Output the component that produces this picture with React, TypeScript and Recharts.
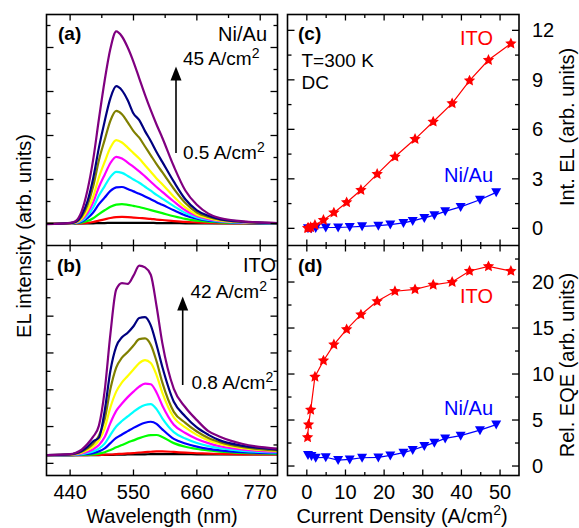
import React from 'react'
import { LineChart, Line, XAxis, YAxis } from 'recharts'

const W = 579
const H = 528
const FONT = "'Liberation Sans', Arial, Helvetica, sans-serif"

// panel frames (px)
const LX0 = 46.5
const LX1 = 277.5
const RX0 = 287.5
const RX1 = 519
const TOP = 14.5
const MID = 245.5
const BOT = 475.5

// ---- spectra (a) Ni/Au and (b) ITO ----
const WL = [400, 440, 450, 460, 470, 480, 490, 500, 510, 520, 530, 540, 550, 560, 570, 580, 590, 600, 620, 640, 660, 680, 700, 740, 800]
const WL_TICKS = [440, 495, 550, 605, 660, 715, 770]
const WL_LABELS = [440, 550, 660, 770]

const niBlack = [0, 0, 0, 0, 0.01, 0.01, 0.02, 0.02, 0.03, 0.03, 0.03, 0.03, 0.03, 0.03, 0.03, 0.03, 0.02, 0.02, 0.02, 0.01, 0.01, 0.01, 0.01, 0, 0]
const niRed = [0, 0, 0, 0.01, 0.03, 0.07, 0.13, 0.19, 0.25, 0.29, 0.3, 0.29, 0.27, 0.25, 0.23, 0.21, 0.18, 0.16, 0.11, 0.07, 0.05, 0.03, 0.02, 0.01, 0]
const niGreen = [0, 0, 0.01, 0.04, 0.11, 0.24, 0.43, 0.6, 0.76, 0.86, 0.88, 0.85, 0.8, 0.75, 0.68, 0.61, 0.54, 0.47, 0.33, 0.21, 0.13, 0.08, 0.05, 0.02, 0.01]
const niBlue = [0, 0, 0.02, 0.08, 0.24, 0.5, 0.88, 1.18, 1.48, 1.64, 1.66, 1.57, 1.46, 1.35, 1.23, 1.1, 0.97, 0.85, 0.6, 0.37, 0.22, 0.13, 0.08, 0.03, 0.01]
const niCyan = [0, 0.01, 0.03, 0.12, 0.35, 0.73, 1.27, 1.7, 2.12, 2.35, 2.3, 2.16, 2.0, 1.85, 1.67, 1.49, 1.3, 1.13, 0.79, 0.48, 0.28, 0.16, 0.1, 0.04, 0.01]
const niMagenta = [-0.01, 0.01, 0.04, 0.17, 0.47, 0.96, 1.66, 2.22, 2.75, 3.03, 2.95, 2.77, 2.57, 2.37, 2.14, 1.9, 1.66, 1.44, 1.0, 0.6, 0.34, 0.2, 0.12, 0.05, 0.02]
const niYellow = [-0.01, 0.01, 0.05, 0.22, 0.6, 1.22, 2.1, 2.8, 3.45, 3.79, 3.68, 3.45, 3.2, 2.95, 2.65, 2.35, 2.05, 1.78, 1.22, 0.73, 0.4, 0.24, 0.14, 0.06, 0.02]
const niOlive = [-0.02, 0.02, 0.07, 0.3, 0.82, 1.68, 2.88, 3.8, 4.68, 5.12, 4.97, 4.6, 4.2, 3.9, 3.5, 3.1, 2.7, 2.33, 1.58, 0.93, 0.5, 0.3, 0.17, 0.07, 0.02]
const niNavy = [-0.02, 0.02, 0.08, 0.38, 1.0, 2.05, 3.45, 4.65, 5.7, 6.24, 6.05, 5.6, 5.0, 4.7, 4.2, 3.75, 3.25, 2.8, 1.9, 1.1, 0.6, 0.35, 0.2, 0.08, 0.02]
const niPurple = [-0.03, 0.03, 0.12, 0.55, 1.5, 2.9, 4.75, 6.5, 7.95, 8.73, 8.5, 8.0, 7.35, 6.6, 5.85, 5.15, 4.5, 3.9, 2.6, 1.5, 0.85, 0.45, 0.25, 0.1, 0.02]

const itoBlack = [0, 0, 0, 0, 0, 0, 0, 0.01, 0.01, 0.02, 0.02, 0.03, 0.03, 0.04, 0.04, 0.05, 0.05, 0.05, 0.05, 0.05, 0.04, 0.04, 0.04, 0.03, 0.03]
const itoRed = [0, 0, 0, 0, 0, 0.01, 0.01, 0.02, 0.03, 0.05, 0.07, 0.09, 0.11, 0.14, 0.16, 0.18, 0.2, 0.2, 0.17, 0.13, 0.1, 0.08, 0.06, 0.04, 0.03]
const itoGreen = [0, 0, 0, 0.01, 0.02, 0.04, 0.08, 0.15, 0.28, 0.42, 0.55, 0.68, 0.8, 0.92, 1.02, 1.08, 1.09, 0.98, 0.65, 0.45, 0.33, 0.25, 0.19, 0.12, 0.07]
const itoBlue = [0, 0, 0.01, 0.03, 0.06, 0.11, 0.2, 0.36, 0.65, 0.93, 1.12, 1.3, 1.48, 1.64, 1.76, 1.81, 1.7, 1.4, 0.88, 0.63, 0.46, 0.34, 0.26, 0.16, 0.1]
const itoCyan = [0, 0.01, 0.02, 0.05, 0.11, 0.2, 0.35, 0.62, 1.1, 1.55, 1.85, 2.1, 2.35, 2.57, 2.72, 2.77, 2.5, 2.0, 1.25, 0.9, 0.66, 0.49, 0.37, 0.23, 0.14]
const itoMagenta = [0, 0.01, 0.04, 0.09, 0.18, 0.32, 0.55, 0.98, 1.75, 2.4, 2.8, 3.15, 3.45, 3.72, 3.88, 3.85, 3.4, 2.7, 1.65, 1.2, 0.88, 0.65, 0.48, 0.3, 0.18]
const itoYellow = [0, 0.02, 0.06, 0.13, 0.27, 0.46, 0.8, 1.45, 2.6, 3.45, 3.95, 4.3, 4.65, 5.0, 5.16, 5.0, 4.35, 3.4, 2.05, 1.5, 1.1, 0.8, 0.6, 0.37, 0.22]
const itoOlive = [0, 0.03, 0.08, 0.18, 0.36, 0.62, 1.05, 1.95, 3.6, 4.75, 5.3, 5.6, 5.95, 6.3, 6.34, 6.0, 5.1, 3.95, 2.35, 1.75, 1.28, 0.93, 0.7, 0.43, 0.25]
const itoNavy = [0, 0.04, 0.1, 0.22, 0.45, 0.75, 0.95, 2.4, 4.6, 5.9, 6.4, 6.65, 7.0, 7.45, 7.5, 7.05, 6.0, 4.8, 2.9, 2.1, 1.5, 1.1, 0.8, 0.5, 0.3]
const itoPurple = [0, 0.05, 0.13, 0.3, 0.6, 1.0, 1.6, 3.5, 6.6, 9.0, 9.35, 9.3, 9.75, 10.3, 10.2, 9.8, 8.1, 6.1, 3.6, 2.6, 1.9, 1.3, 1.0, 0.6, 0.35]

const SPEC_COLORS = ['#000000', '#ff0000', '#00ff00', '#0000ff', '#00ffff', '#ff00ff', '#ffff00', '#808000', '#000080', '#800080']

// ---- (c) integrated EL and (d) relative EQE vs current density ----
const itoJ = [0.2, 0.45, 1.0, 2.1, 4.3, 7.0, 10.3, 14.0, 18.2, 22.8, 28.0, 32.7, 37.6, 42.1, 47.0, 52.8]
const itoEL = [0.01, 0.02, 0.06, 0.2, 0.5, 0.95, 1.57, 2.32, 3.29, 4.34, 5.41, 6.46, 7.57, 8.95, 10.2, 11.2]
const itoEQE = [3.12, 4.5, 6.1, 9.7, 11.45, 13.2, 14.85, 16.45, 17.9, 19.0, 19.2, 19.7, 20.0, 21.2, 21.7, 21.2]

const niJ = [0.3, 1.2, 2.3, 4.9, 8.1, 11.1, 14.3, 18.5, 21.6, 25.0, 27.4, 30.4, 33.0, 35.8, 39.8, 44.8, 49.0]
const niEL = [0.0, 0.01, 0.02, 0.05, 0.05, 0.08, 0.12, 0.16, 0.23, 0.33, 0.45, 0.63, 0.8, 1.03, 1.3, 1.73, 2.18]
const niEQE = [1.2, 1.1, 0.9, 0.95, 0.65, 0.72, 0.9, 0.94, 1.15, 1.45, 1.74, 2.17, 2.54, 3.0, 3.3, 3.9, 4.5]

const J_TICKS = [0, 5, 10, 15, 20, 25, 30, 35, 40, 45, 50]
const EL_TICKS = [0, 1.5, 3, 4.5, 6, 7.5, 9, 10.5, 12]
const EQE_TICKS = [0, 2.5, 5, 7.5, 10, 12.5, 15, 17.5, 20, 22.5]
const NI_Y_TICKS = [0, 1, 2, 3, 4, 5, 6, 7, 8, 9]
const ITO_Y_TICKS = [-0.45, 0.55, 1.55, 2.55, 3.55, 4.55, 5.55, 6.55, 7.55, 8.55, 9.55, 10.55]

function specRows(series: number[][]) {
  return WL.map((w, i) => {
    const row: any = { w }
    series.forEach((s, j) => { row['s' + j] = s[i] })
    return row
  })
}

const niRows = specRows([niBlack, niRed, niGreen, niBlue, niCyan, niMagenta, niYellow, niOlive, niNavy, niPurple])
const itoRows = specRows([itoBlack, itoRed, itoGreen, itoBlue, itoCyan, itoMagenta, itoYellow, itoOlive, itoNavy, itoPurple])

const pts = (xs: number[], ys: number[]) => xs.map((j, i) => ({ j, v: ys[i] }))

// ticks drawn inward on both opposite sides of a panel
const xTick = (span: number, isMajor: (v: number) => boolean, label: boolean) => (props: any) => {
  const { x, y, payload } = props
  const v = payload.value
  const len = isMajor(v) ? 6 : 3.5
  return (
    <g>
      <line x1={x} x2={x} y1={y} y2={y - len} stroke="#000" strokeWidth={1.3} />
      <line x1={x} x2={x} y1={y - span} y2={y - span + len} stroke="#000" strokeWidth={1.3} />
      {label && isMajor(v) && (
        <text x={x} y={y + 23.5} textAnchor="middle" fontSize={20} fontFamily={FONT} fill="#000">{v}</text>
      )}
    </g>
  )
}

const yTick = (span: number, isMajor: (v: number) => boolean, label: boolean) => (props: any) => {
  const { x, y, payload } = props
  const v = payload.value
  const len = isMajor(v) ? 7 : 4
  return (
    <g>
      <line x1={x} x2={x + len} y1={y} y2={y} stroke="#000" strokeWidth={1.3} />
      <line x1={x + span} x2={x + span - len} y1={y} y2={y} stroke="#000" strokeWidth={1.3} />
      {label && isMajor(v) && (
        <text x={x + span + 13} y={y} dominantBaseline="central" fontSize={20} fontFamily={FONT} fill="#000">{v}</text>
      )}
    </g>
  )
}

function StarDot({ cx, cy }: { cx: number; cy: number }) {
  const p: string[] = []
  for (let i = 0; i < 10; i++) {
    const r = i % 2 === 0 ? 6 : 2.9
    const a = -Math.PI / 2 + (i * Math.PI) / 5
    p.push(`${cx + r * Math.cos(a)},${cy + r * Math.sin(a)}`)
  }
  return <polygon points={p.join(' ')} fill="#ff0000" />
}

function TriDot({ cx, cy }: { cx: number; cy: number }) {
  return <polygon points={`${cx - 5},${cy - 4} ${cx + 5},${cy - 4} ${cx},${cy + 5}`} fill="#0000ff" />
}

// axes are 1px thick so they render; tick positions then sit on the frame
const axisBase = {
  type: 'number' as const,
  allowDataOverflow: true,
  interval: 0 as const,
  tickSize: 0,
  tickMargin: 0,
  axisLine: false,
  tickLine: false,
}

function SpectraPanel({ rows, top, bottom, yDomain, yTicks, yMajor, showX }: any) {
  return (
    <div style={{ position: 'absolute', left: 0, top: 0 }}>
      <LineChart width={W} height={H} data={rows} margin={{ top, left: LX0 - 1, right: W - LX1, bottom: H - bottom - 1 }}>
        <XAxis {...axisBase} dataKey="w" domain={[399, 800]} ticks={WL_TICKS} height={1}
          tick={xTick(bottom - top, (v) => WL_LABELS.includes(v), showX)} />
        <YAxis {...axisBase} domain={yDomain} ticks={yTicks} width={1}
          tick={yTick(LX1 - LX0, yMajor, false)} />
        {SPEC_COLORS.map((c, j) => (
          <Line key={j} dataKey={'s' + j} stroke={c} strokeWidth={2.2} dot={false} type="monotone" isAnimationActive={false} />
        ))}
      </LineChart>
    </div>
  )
}

function JPanel({ top, bottom, yDomain, yTicks, yMajor, ito, ni, showX }: any) {
  return (
    <div style={{ position: 'absolute', left: 0, top: 0 }}>
      <LineChart width={W} height={H} margin={{ top, left: RX0 - 1, right: W - RX1, bottom: H - bottom - 1 }}>
        <XAxis {...axisBase} dataKey="j" domain={[-5, 54.9]} ticks={J_TICKS} height={1}
          tick={xTick(bottom - top, (v) => v % 10 === 0, showX)} />
        <YAxis {...axisBase} domain={yDomain} ticks={yTicks} width={1}
          tick={yTick(RX1 - RX0, yMajor, true)} />
        <Line data={ni} dataKey="v" stroke="#0000ff" strokeWidth={1.2} isAnimationActive={false}
          dot={(p: any) => <TriDot key={'t' + p.index} cx={p.cx} cy={p.cy} />} />
        <Line data={ito} dataKey="v" stroke="#ff0000" strokeWidth={1.2} isAnimationActive={false}
          dot={(p: any) => <StarDot key={'s' + p.index} cx={p.cx} cy={p.cy} />} />
      </LineChart>
    </div>
  )
}

function Cm2({ dy = 7 }: { dy?: number }) {
  return (
    <>
      {' A/cm'}
      <tspan dy={-dy} fontSize={14}>2</tspan>
    </>
  )
}

export default function App() {
  const txt = { fontFamily: FONT, fill: '#000' }
  return (
    <div style={{ position: 'absolute', left: 0, top: 0, width: W, height: H, background: '#fff', overflow: 'hidden' }}>
      <SpectraPanel rows={niRows} top={TOP} bottom={MID} yDomain={[-1, 9.5]} yTicks={NI_Y_TICKS}
        yMajor={(v: number) => v % 2 === 0} showX={false} />
      <SpectraPanel rows={itoRows} top={MID} bottom={BOT} yDomain={[-1.11, 11.39]} yTicks={ITO_Y_TICKS}
        yMajor={(v: number) => Math.round(v + 0.45) % 2 === 0} showX={true} />
      <JPanel top={TOP} bottom={MID} yDomain={[-1.04, 12.96]} yTicks={EL_TICKS} yMajor={(v: number) => v % 3 === 0}
        ito={pts(itoJ, itoEL)} ni={pts(niJ, niEL)} showX={false} />
      <JPanel top={MID} bottom={BOT} yDomain={[-1.03, 23.97]} yTicks={EQE_TICKS} yMajor={(v: number) => v % 5 === 0}
        ito={pts(itoJ, itoEQE)} ni={pts(niJ, niEQE)} showX={true} />

      <svg width={W} height={H} style={{ position: 'absolute', left: 0, top: 0, pointerEvents: 'none' }}>
        <g fill="none" stroke="#000" strokeWidth={1.6}>
          <rect x={LX0} y={TOP} width={LX1 - LX0} height={BOT - TOP} />
          <line x1={LX0} x2={LX1} y1={MID} y2={MID} />
          <rect x={RX0} y={TOP} width={RX1 - RX0} height={BOT - TOP} />
          <line x1={RX0} x2={RX1} y1={MID} y2={MID} />
        </g>

        {/* panel (a) */}
        <text x={58} y={40} fontSize={19} fontWeight="bold" {...txt}>(a)</text>
        <text x={267} y={40.5} fontSize={20} textAnchor="end" {...txt}>Ni/Au</text>
        <text x={183} y={65} fontSize={19} {...txt}>45<Cm2 /></text>
        <text x={183} y={159} fontSize={19} {...txt}>0.5<Cm2 /></text>
        <line x1={176} x2={176} y1={153} y2={79} stroke="#000" strokeWidth={1.6} />
        <polygon points="176,66.5 170.5,80.5 181.5,80.5" fill="#000" />

        {/* panel (b) */}
        <text x={57} y={272} fontSize={19} fontWeight="bold" {...txt}>(b)</text>
        <text x={276} y={271.5} fontSize={20} textAnchor="end" {...txt}>ITO</text>
        <text x={190.5} y={298} fontSize={19} {...txt}>42<Cm2 /></text>
        <text x={191.5} y={389} fontSize={19} {...txt}>0.8<Cm2 /></text>
        <line x1={182.7} x2={182.7} y1={385} y2={309} stroke="#000" strokeWidth={1.6} />
        <polygon points="182.7,296.5 177.2,310.5 188.2,310.5" fill="#000" />

        {/* panel (c) */}
        <text x={298} y={40} fontSize={19} fontWeight="bold" {...txt}>(c)</text>
        <text x={301.5} y={66.5} fontSize={19} {...txt}>T=300 K</text>
        <text x={301.5} y={88.5} fontSize={19} {...txt}>DC</text>
        <text x={493} y={45} fontSize={20} textAnchor="end" fontFamily={FONT} fill="#ff0000">ITO</text>
        <text x={493} y={181.5} fontSize={20} textAnchor="end" fontFamily={FONT} fill="#0000ff">Ni/Au</text>

        {/* panel (d) */}
        <text x={298} y={272} fontSize={19} fontWeight="bold" {...txt}>(d)</text>
        <text x={493} y={302.5} fontSize={20} textAnchor="end" fontFamily={FONT} fill="#ff0000">ITO</text>
        <text x={493} y={415} fontSize={20} textAnchor="end" fontFamily={FONT} fill="#0000ff">Ni/Au</text>

        {/* axis titles */}
        <text x={24} y={236} fontSize={20} textAnchor="middle" dominantBaseline="central"
          transform="rotate(-90 24 236)" {...txt}>EL intensity (arb. units)</text>
        <text x={567} y={127} fontSize={20} textAnchor="middle" dominantBaseline="central"
          transform="rotate(-90 567 127)" {...txt}>Int. EL (arb. units)</text>
        <text x={567} y={365} fontSize={20} textAnchor="middle" dominantBaseline="central"
          transform="rotate(-90 567 365)" {...txt}>Rel. EQE (arb. units)</text>
        <text x={162} y={523} fontSize={20} textAnchor="middle" {...txt}>Wavelength (nm)</text>
        <text x={402} y={523} fontSize={20} textAnchor="middle" {...txt}>
          Current Density (A/cm<tspan dy={-8} fontSize={14}>2</tspan><tspan dy={8}>)</tspan>
        </text>
      </svg>
    </div>
  )
}
